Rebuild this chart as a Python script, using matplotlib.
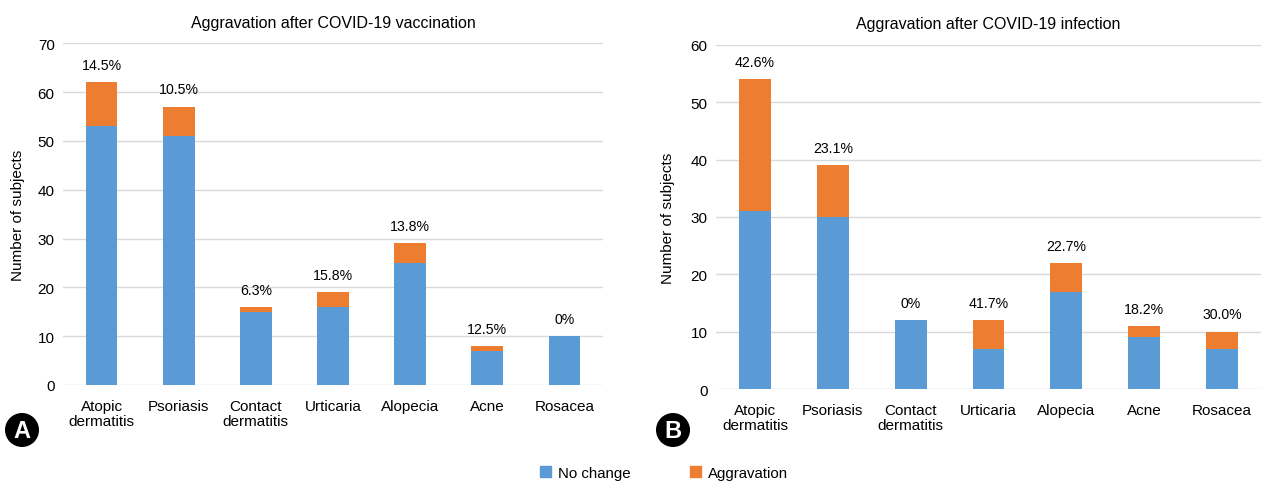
import matplotlib
matplotlib.use("Agg")
import matplotlib.pyplot as plt
from matplotlib.patches import Rectangle, Ellipse

plt.rcParams['font.family'] = ['Liberation Sans', 'DejaVu Sans']

categories = ["Atopic\ndermatitis", "Psoriasis", "Contact\ndermatitis", "Urticaria",
              "Alopecia", "Acne", "Rosacea"]

vacc_no_change = [53, 51, 15, 16, 25, 7, 10]
vacc_aggravation = [9, 6, 1, 3, 4, 1, 0]
vacc_pct = ["14.5%", "10.5%", "6.3%", "15.8%", "13.8%", "12.5%", "0%"]

inf_no_change = [31, 30, 12, 7, 17, 9, 7]
inf_aggravation = [23, 9, 0, 5, 5, 2, 3]
inf_pct = ["42.6%", "23.1%", "0%", "41.7%", "22.7%", "18.2%", "30.0%"]

BLUE = "#5B9BD5"
ORANGE = "#ED7D31"
GRID = "#D9D9D9"

W, H = 1261, 485
fig = plt.figure(figsize=(W / 100, H / 100), dpi=100)


def px_axes(x0, x1, y_top, y_bot):
    return fig.add_axes([x0 / W, 1 - y_bot / H, (x1 - x0) / W, (y_bot - y_top) / H])


def draw(ax, title, nochange, aggr, pct, ymax, step):
    x = list(range(len(categories)))
    ax.bar(x, nochange, width=0.41, color=BLUE, zorder=3)
    ax.bar(x, aggr, width=0.41, bottom=nochange, color=ORANGE, zorder=3)
    for xi, n, a, p in zip(x, nochange, aggr, pct):
        ax.annotate(p, (xi, n + a), xytext=(0, 12.5), textcoords="offset points",
                    ha="center", va="center", fontsize=10.2)
    ax.set_xlim(-0.5, len(categories) - 0.5)
    ax.set_ylim(0, ymax)
    ax.set_yticks(range(0, ymax + 1, step))
    ax.set_xticks(x)
    ax.set_xticklabels(categories, fontsize=11, linespacing=1.1)
    ax.tick_params(axis="both", length=0)
    ax.tick_params(axis="y", labelsize=11, pad=6)
    ax.tick_params(axis="x", pad=10)
    ax.grid(axis="y", color=GRID, linewidth=1, zorder=0)
    for s in ax.spines.values():
        s.set_visible(False)
    ax.set_title(title, fontsize=11.5, pad=12)
    ax.set_ylabel("Number of subjects", fontsize=11)


axA = px_axes(63, 603, 44.3, 386)
draw(axA, "Aggravation after COVID-19 vaccination", vacc_no_change, vacc_aggravation, vacc_pct, 70, 10)
axA.yaxis.set_label_coords((25 - 63) / 540, 0.5)

axB = px_axes(716, 1261, 46, 390)
draw(axB, "Aggravation after COVID-19 infection", inf_no_change, inf_aggravation, inf_pct, 60, 10)
axB.yaxis.set_label_coords((675 - 716) / 545, 0.5)

# panel badges
for (cx, cy, letter) in [(22, 431, "A"), (673, 431, "B")]:
    e = Ellipse((cx / W, 1 - cy / H), 34 / W, 34 / H, transform=fig.transFigure,
                facecolor="black", edgecolor="none", zorder=1)
    fig.patches.append(e)
    fig.text(cx / W, 1 - cy / H - 0.002, letter, color="white", fontsize=17,
             fontweight="bold", ha="center", va="center", zorder=2)

# legend
handles = [Rectangle((0, 0), 1, 1, color=BLUE), Rectangle((0, 0), 1, 1, color=ORANGE)]
fig.legend(handles, ["No change", "Aggravation"], loc="center", bbox_to_anchor=(664 / W, 1 - 474 / H),
           ncol=2, frameon=False, fontsize=10.8, handlelength=0.75, handleheight=0.75,
           handletextpad=0.5, columnspacing=3.9)

fig.savefig("out.png", dpi=100)
